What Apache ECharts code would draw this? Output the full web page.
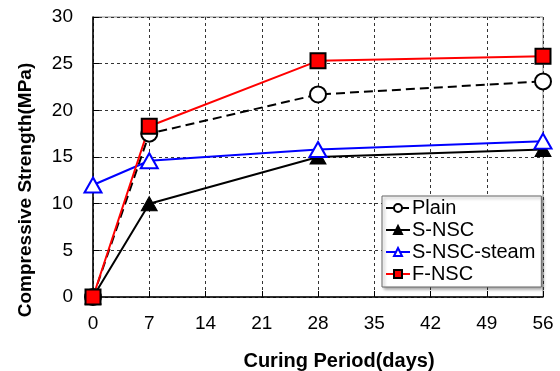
<!DOCTYPE html>
<html>
<head>
<meta charset="utf-8">
<script src="https://cdn.jsdelivr.net/npm/echarts@6/dist/echarts.min.js"></script>
<style>
html,body{margin:0;padding:0;background:#fff;}
#chart{width:560px;height:371px;}
</style>
</head>
<body>
<div id="chart"></div>
<script>
// curing days and strengths (MPa)
let days=[0,7,28,56];
let plain=[0,17.5,21.7,23.1];
let sNsc=[0,10,15.0,15.8];
let sNscSteam=[12.0,14.6,15.8,16.7];
let fNsc=[0,18.3,25.3,25.8];
let xTicks=[0,7,14,21,28,35,42,49,56];

function pts(ys){
    return days.map(function(d,i){return [d,ys[i]];});
}

let myChart=echarts.init(document.getElementById("chart"));
let font="Liberation Sans";

let option={
    animation:false,
    grid:{left:93,right:17,top:17,bottom:74,show:true,borderColor:"#888",borderWidth:1},
    // axis titles sit a bit off-centre in the original
    graphic:[
        {type:"text",x:339,y:361,style:{text:"Curing Period(days)",font:"bold 20px Liberation Sans",fill:"#000",align:"center",verticalAlign:"middle"}},
        {type:"text",x:26,y:190,rotation:Math.PI/2,style:{text:"Compressive Strength(MPa)",font:"bold 19px Liberation Sans",fill:"#000",align:"center",verticalAlign:"middle"}}
    ],
    legend:{
        orient:"vertical",
        left:382,
        top:196,
        padding:[1,6,2,3],
        itemGap:0,
        itemWidth:24,
        itemHeight:10,
        backgroundColor:"#fff",
        borderColor:"#666",
        borderWidth:1,
        shadowColor:"rgba(0,0,0,0.35)",
        shadowBlur:3,
        shadowOffsetX:2,
        shadowOffsetY:2,
        textStyle:{fontFamily:font,fontSize:20,lineHeight:22,color:"#000",padding:[0,0,0,-3]},
        data:["Plain","S-NSC","S-NSC-steam","F-NSC"]
    },
    xAxis:{
        type:"value",
        min:0,max:56,interval:7,
        axisLine:{lineStyle:{color:"#000",width:1.5}},
        axisTick:{inside:true,length:6,lineStyle:{color:"#000"}},
        axisLabel:{fontFamily:font,fontSize:19,color:"#000",margin:17,formatter:function(v){return xTicks.indexOf(v)>=0?String(v):"";}},
        splitLine:{show:true,lineStyle:{color:"#333",type:[3,3],width:1}}
    },
    yAxis:{
        type:"value",
        min:0,max:30,interval:5,
        axisLine:{show:true,lineStyle:{color:"#000",width:1.5}},
        axisTick:{show:true,inside:true,length:6,lineStyle:{color:"#000"}},
        axisLabel:{fontFamily:font,fontSize:19,color:"#000",margin:20},
        splitLine:{show:true,lineStyle:{color:"#333",type:[3,3],width:1}}
    },
    series:[
        {
            name:"Plain",type:"line",data:pts(plain),
            symbol:"circle",symbolSize:16,
            lineStyle:{color:"#000",width:2,type:[9,5]},
            itemStyle:{color:"#fff",borderColor:"#000",borderWidth:2}
        },
        {
            name:"S-NSC",type:"line",data:pts(sNsc),
            symbol:"triangle",symbolSize:[16,14],
            lineStyle:{color:"#000",width:2},
            itemStyle:{color:"#000",borderColor:"#000",borderWidth:1}
        },
        {
            name:"S-NSC-steam",type:"line",data:pts(sNscSteam),
            symbol:"triangle",symbolSize:[17,15],
            lineStyle:{color:"#0000ff",width:2},
            itemStyle:{color:"#fff",borderColor:"#0000ff",borderWidth:2}
        },
        {
            name:"F-NSC",type:"line",data:pts(fNsc),
            symbol:"rect",symbolSize:15,
            lineStyle:{color:"#ff0000",width:2},
            itemStyle:{color:"#ff0000",borderColor:"#000",borderWidth:2}
        }
    ]
};

myChart.setOption(option);
</script>
</body>
</html>
